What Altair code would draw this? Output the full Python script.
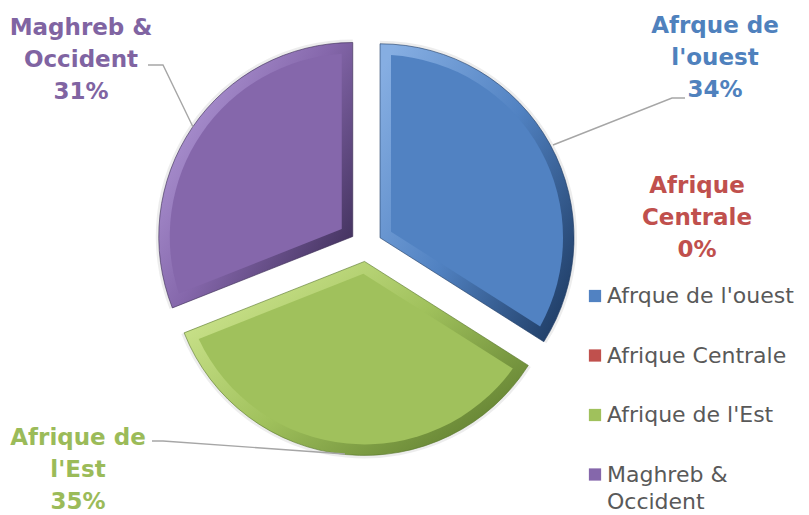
import math
import altair as alt
import pandas as pd

# ---------------- data ----------------
categories = ["Afrque de l'ouest", "Afrique Centrale", "Afrique de l'Est", "Maghreb & Occident"]
values = [34, 0, 35, 31]
label_names = ["Afrque de\nl'ouest", "Afrique\nCentrale", "Afrique de\nl'Est", "Maghreb &\nOccident"]
legend_names = ["Afrque de l'ouest", "Afrique Centrale", "Afrique de l'Est", "Maghreb &\nOccident"]

# ---------------- styles / layout ----------------
face_colors = ["#5182C2", "#C0504D", "#A0C15C", "#8567AB"]
light_colors = ["#86AEE2", "#D88582", "#D4EA96", "#B9A2DF"]
dark_colors = ["#1E3B63", "#6B2624", "#58762A", "#392A53"]
label_colors = ["#4F81BD", "#C0504D", "#9BBB59", "#8064A2"]

W, H = 809, 515
CX, CY = 366, 245.5
R = 194
EXPLODE = 16
BEVEL = 11

LABEL_X = [715, 697, 78, 81]
LABEL_Y = [33, 193, 445, 35]
LABEL_FONT = "DejaVu Sans"
LEADERS = {
    "Afrque de l'ouest": [(685, 98), (672, 98), (553, 145)],
    "Afrique de l'Est": [(152, 441), (163, 441), (345, 454)],
    "Maghreb & Occident": [(148, 65), (163, 65), (193, 127)],
}
LEG_X, LEG_Y0, LEG_STEP = 595, 296, 59.5

df = pd.DataFrame({
    "idx": list(range(len(categories))),
    "cat": categories,
    "value": values,
    "lname": label_names,
    "gname": legend_names,
    "lx": LABEL_X,
    "ly": LABEL_Y,
})

base = (
    alt.Chart(df)
    .transform_joinaggregate(total="sum(value)")
    .transform_window(cum="sum(value)", sort=[alt.SortField("idx")], frame=[None, 0])
    .transform_calculate(
        t0="2*PI*(datum.cum-datum.value)/datum.total",
        t1="2*PI*datum.cum/datum.total",
    )
    .transform_calculate(mid="(datum.t0+datum.t1)/2")
    .transform_calculate(
        cx=f"{CX}+{EXPLODE}*sin(datum.mid)",
        cy=f"{CY}-{EXPLODE}*cos(datum.mid)",
        pct="format(datum.value/datum.total, '.0%')",
    )
)

arc_enc = dict(
    theta=alt.Theta("t0:Q", scale=None),
    theta2="t1:Q",
    x=alt.X("cx:Q", scale=None, axis=None),
    y=alt.Y("cy:Q", scale=None, axis=None),
)

total = sum(values)
layers = []
for i, cat in enumerate(categories):
    if values[i] <= 0:
        continue
    sel = base.transform_filter(alt.FieldEqualPredicate(field="cat", equal=cat))
    theta = values[i] / total * 2 * math.pi
    r1 = R - BEVEL
    r0 = BEVEL / math.sin(theta / 2)
    rp = math.hypot(r0, r1)
    pad = 2 * math.asin(BEVEL / rp)
    shadow = sel.mark_arc(radius=R + 3, fill="#000000", opacity=0.07).encode(**arc_enc)
    grad = alt.Gradient(
        gradient="linear",
        stops=[
            alt.GradientStop(color=light_colors[i], offset=0),
            alt.GradientStop(color=face_colors[i], offset=0.5),
            alt.GradientStop(color=dark_colors[i], offset=1),
        ],
        x1=0, y1=0.1, x2=1, y2=0.9,
    )
    rim = sel.mark_arc(radius=R, fill=grad, stroke=dark_colors[i], strokeWidth=0.6).encode(**arc_enc)
    face = sel.mark_arc(radius=r1, radius2=r0, padAngle=pad, fill=face_colors[i]).encode(**arc_enc)
    layers += [shadow, rim, face]

# leader lines
lead_rows = []
for cat, pts in LEADERS.items():
    for k, (px, py) in enumerate(pts):
        lead_rows.append({"grp": cat, "k": k, "x": px, "y": py})
leaders = alt.Chart(pd.DataFrame(lead_rows)).mark_line(color="#A6A6A6", strokeWidth=1.4).encode(
    x=alt.X("x:Q", scale=None, axis=None),
    y=alt.Y("y:Q", scale=None, axis=None),
    detail="grp:N",
    order="k:Q",
)
layers.append(leaders)

color_scale = alt.Scale(domain=categories, range=label_colors)

labels = base.transform_calculate(txt="datum.lname + '\\n' + datum.pct").mark_text(
    font=LABEL_FONT, fontSize=23, fontWeight="bold", align="center",
    baseline="alphabetic", lineBreak="\n", lineHeight=32,
).encode(
    x=alt.X("lx:Q", scale=None, axis=None),
    y=alt.Y("ly:Q", scale=None, axis=None),
    text="txt:N",
    color=alt.Color("cat:N", scale=color_scale, legend=None),
)
layers.append(labels)

# legend
leg = base.transform_calculate(
    gx=f"{LEG_X}", gy=f"{LEG_Y0}+datum.idx*{LEG_STEP}"
)
leg_sym = leg.mark_square(size=150, opacity=1, strokeWidth=1).encode(
    x=alt.X("gx:Q", scale=None, axis=None),
    y=alt.Y("gy:Q", scale=None, axis=None),
    color=alt.Color("cat:N", scale=alt.Scale(domain=categories, range=face_colors), legend=None),
)
leg_txt = leg.transform_calculate(tx=f"{LEG_X + 12}", ty=f"{LEG_Y0 + 7}+datum.idx*{LEG_STEP}").mark_text(
    font=LABEL_FONT, fontSize=22, color="#595959", align="left", baseline="alphabetic",
    lineBreak="\n", lineHeight=27,
).encode(
    x=alt.X("tx:Q", scale=None, axis=None),
    y=alt.Y("ty:Q", scale=None, axis=None),
    text="gname:N",
)
layers += [leg_sym, leg_txt]

chart = (
    alt.layer(*layers)
    .resolve_scale(color="independent")
    .properties(width=W, height=H, autosize=alt.AutoSizeParams(type="none"), padding=0, background="white")
    .configure_view(stroke=None)
)

chart.save("out.html", embed_options={"renderer": "svg", "actions": False})
